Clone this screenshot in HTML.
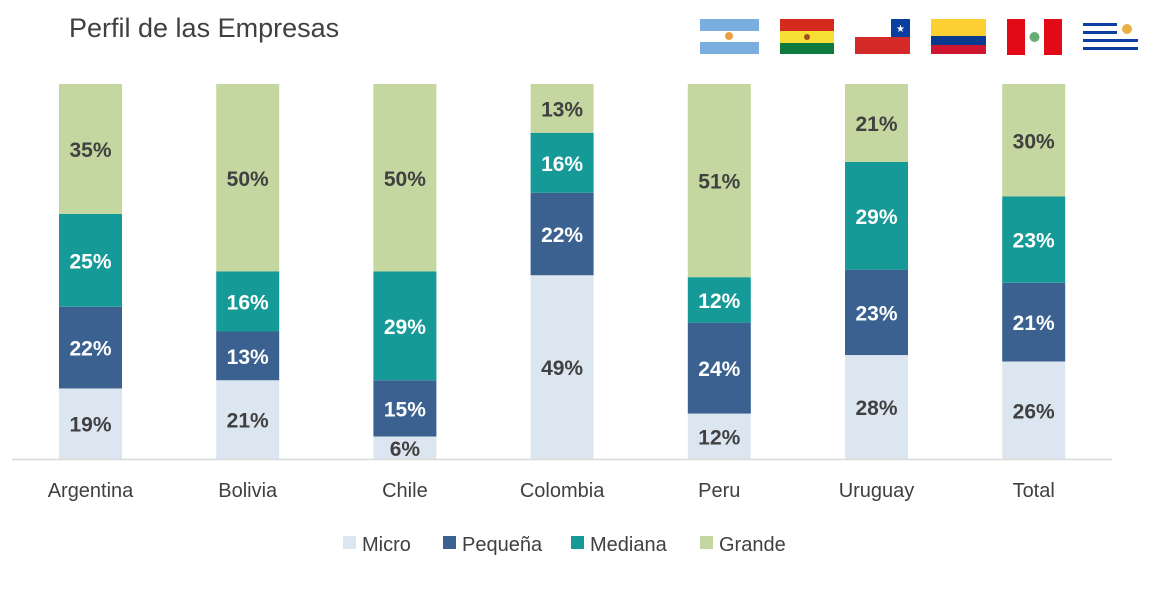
<!DOCTYPE html>
<html><head><meta charset="utf-8"><style>
body{margin:0;background:#fff;font-family:"Liberation Sans",sans-serif;}
svg{display:block}
</style></head><body>
<svg id="chart" width="1172" height="614">
<text x="69" y="37" font-size="27" fill="#404040">Perfil de las Empresas</text>
<g>
<g><rect x="700" y="19" width="59" height="35" fill="#7aaede"/><rect x="700" y="31" width="59" height="11" fill="#fff"/><circle cx="729" cy="36" r="4" fill="#e8a040"/></g>
<g><rect x="780" y="19" width="54" height="12" fill="#d52b1e"/><rect x="780" y="31" width="54" height="12" fill="#f7e035"/><rect x="780" y="43" width="54" height="11" fill="#0f7a3e"/><circle cx="807" cy="37" r="3" fill="#a05020"/></g>
<g><rect x="855" y="19" width="55" height="18" fill="#fff"/><rect x="891" y="19" width="19" height="18" fill="#0a3ea0"/><rect x="855" y="37" width="55" height="17" fill="#d52b28"/><text x="900.5" y="32" font-size="10" fill="#fff" text-anchor="middle">★</text></g>
<g><rect x="931" y="19" width="55" height="17" fill="#fcd033"/><rect x="931" y="36" width="55" height="9" fill="#0a3a90"/><rect x="931" y="45" width="55" height="9" fill="#cf1530"/></g>
<g><rect x="1007" y="19" width="55" height="36" fill="#e30a17"/><rect x="1025" y="19" width="19" height="36" fill="#fff"/><circle cx="1034.5" cy="37" r="5" fill="#2a8a3a" opacity=".7"/></g>
<g><rect x="1083" y="23" width="55" height="28" fill="#fff"/><rect x="1083" y="23" width="34" height="3" fill="#0a3ea0"/><rect x="1083" y="31" width="34" height="3" fill="#0a3ea0"/><rect x="1083" y="39" width="55" height="3" fill="#0a3ea0"/><rect x="1083" y="47" width="55" height="3" fill="#0a3ea0"/><circle cx="1127" cy="29" r="5" fill="#e8b040"/></g>
</g>
<g id="bars"></g>
<line x1="12" y1="459.5" x2="1112" y2="459.5" stroke="#d9d9d9" stroke-width="1.5"/>
<g id="xlabels"></g>
<g id="legend"></g>
</svg>
<script>
const categories=["Argentina","Bolivia","Chile","Colombia","Peru","Uruguay","Total"];
const seriesNames=["Micro","Pequeña","Mediana","Grande"];
const micro=[19,21,6,49,12,28,26];
const pequena=[22,13,15,22,24,23,21];
const mediana=[25,16,29,16,12,29,23];
const grande=[35,50,50,13,51,21,30];
const series=[micro,pequena,mediana,grande];
const colors=["#dce6f0","#3a6190","#169a98","#c4d7a0"];
const textColors=["#404040","#fff","#fff","#404040"];
const NS="http://www.w3.org/2000/svg";
const x0=59,step=157.2,bw=63,yBase=459,yTop=84;
function xPos(i){return x0+i*step;}
function yScale(f){return yBase-f*(yBase-yTop);}
function mk(t,a,p){const e=document.createElementNS(NS,t);for(const k in a)e.setAttribute(k,a[k]);p.appendChild(e);return e;}
const bars=document.getElementById('bars');
categories.forEach((c,i)=>{
  const total=series.reduce((s,a)=>s+a[i],0);
  let cum=0;
  series.forEach((s,j)=>{
    const y1=yScale(cum/total),y2=yScale((cum+s[i])/total);cum+=s[i];
    const r=mk('rect',{x:xPos(i),y:y2,width:bw,height:y1-y2,fill:colors[j]},bars);
    
    
    const t=mk('text',{x:xPos(i)+bw/2,y:(y1+y2)/2+8,'font-size':21,'font-weight':'bold',fill:textColors[j],'text-anchor':'middle'},bars);
    t.textContent=s[i]+'%';
    
    
  });
  const l=mk('text',{x:xPos(i)+bw/2,y:497,'font-size':20,fill:'#404040','text-anchor':'middle'},document.getElementById('xlabels'));
  l.textContent=c;
  
  
});
const lg=document.getElementById('legend');
const lx=[343,443,571,700];
seriesNames.forEach((n,j)=>{
  const g=mk('g',{},lg);
  
  
  mk('rect',{x:lx[j],y:536,width:13,height:13,fill:colors[j]},g);
  const t=mk('text',{x:lx[j]+19,y:551,'font-size':20,fill:'#404040'},g);
  t.textContent=n;
});
</script>
</body></html>
